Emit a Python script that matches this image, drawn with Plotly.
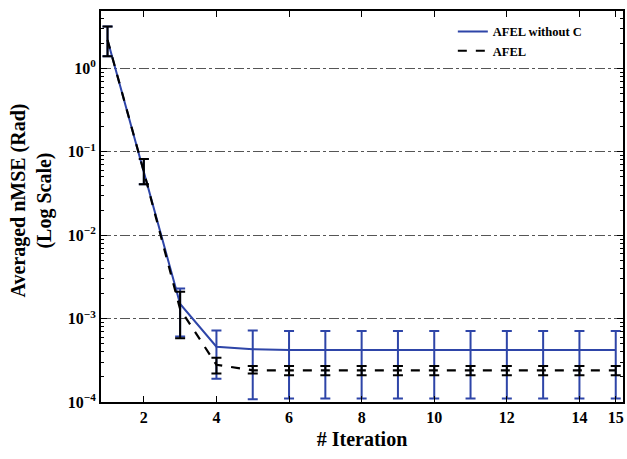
import plotly.graph_objects as go

# Iteration index
iterations = [1, 2, 3, 4, 5, 6, 7, 8, 9, 10, 11, 12, 13, 14, 15]

# AFEL without C: mean nMSE and error-bar bounds
afel_noc_mean = [2.2, 0.058, 0.0015, 0.00046, 0.00043, 0.00042, 0.00042, 0.00042,
                 0.00042, 0.00042, 0.00042, 0.00042, 0.00042, 0.00042, 0.00042]
afel_noc_upper = [3.2, 0.082, 0.0023, 0.00072, 0.00072, 0.00071, 0.00071, 0.00071,
                  0.00071, 0.00071, 0.00071, 0.00071, 0.00071, 0.00071, 0.00071]
afel_noc_lower = [1.4, 0.041, 0.00061, 0.00019, 0.000108, 0.000110, 0.000110, 0.000110,
                  0.000110, 0.000110, 0.000110, 0.000110, 0.000110, 0.000110, 0.000110]

# AFEL: mean nMSE and error-bar bounds
afel_mean = [2.2, 0.058, 0.0013, 0.00028, 0.00024, 0.00024, 0.00024, 0.00024,
             0.00024, 0.00024, 0.00024, 0.00024, 0.00024, 0.00024, 0.00024]
afel_upper = [3.2, 0.082, 0.0021, 0.00034, 0.00027, 0.00027, 0.00027, 0.00027,
              0.00027, 0.00027, 0.00027, 0.00027, 0.00027, 0.00027, 0.00027]
afel_lower = [1.4, 0.041, 0.00058, 0.00022, 0.00022, 0.00021, 0.00021, 0.00021,
              0.00021, 0.00021, 0.00021, 0.00021, 0.00021, 0.00021, 0.00021]

x_tickvals = [2, 4, 6, 8, 10, 12, 14, 15]
y_tickvals = [1e-4, 1e-3, 1e-2, 1e-1, 1e0]
y_ticktext = ["10<sup>\u22124</sup>", "10<sup>\u22123</sup>", "10<sup>\u22122</sup>",
              "10<sup>\u22121</sup>", "10<sup>0</sup>"]

BLUE = "#2E45A8"
FONT = "Liberation Serif"


def err(mean, upper, lower):
    plus = [u - m for u, m in zip(upper, mean)]
    minus = [m - l for m, l in zip(mean, lower)]
    return plus, minus


nc_plus, nc_minus = err(afel_noc_mean, afel_noc_upper, afel_noc_lower)
a_plus, a_minus = err(afel_mean, afel_upper, afel_lower)

fig = go.Figure()
fig.add_trace(go.Scatter(
    x=iterations, y=afel_noc_mean, mode="lines", name="<b>AFEL without C</b>",
    line=dict(color=BLUE, width=2),
    error_y=dict(type="data", symmetric=False, array=nc_plus, arrayminus=nc_minus,
                 color=BLUE, thickness=2, width=5),
))
fig.add_trace(go.Scatter(
    x=iterations, y=afel_mean, mode="lines", name="<b>AFEL</b>",
    line=dict(color="black", width=2.2, dash="dash"),
    error_y=dict(type="data", symmetric=False, array=a_plus, arrayminus=a_minus,
                 color="black", thickness=2, width=5),
))

fig.update_layout(
    width=627, height=459,
    margin=dict(l=101, r=2, t=11, b=57),
    paper_bgcolor="white", plot_bgcolor="white",
    font=dict(family=FONT, size=16, color="black"),
    showlegend=True,
    legend=dict(x=0.674, y=0.985, xanchor="left", yanchor="top",
                bgcolor="rgba(0,0,0,0)", borderwidth=0,
                font=dict(family=FONT, size=12.5, color="black"),
                tracegroupgap=0, itemwidth=30),
    annotations=[dict(
        text="<b>Averaged nMSE (Rad)<br>(Log Scale)</b>",
        xref="paper", yref="paper", x=-0.135, y=0.514,
        xanchor="center", yanchor="middle", textangle=-90, showarrow=False,
        font=dict(family=FONT, size=20, color="black"),
    )],
)

fig.update_xaxes(
    range=[0.82, 15.2], tickvals=x_tickvals,
    ticktext=[f"<b>{v}</b>" for v in x_tickvals],
    ticks="inside", ticklen=6, tickwidth=1, tickcolor="black",
    showline=True, linecolor="black", linewidth=2, mirror="ticks",
    showgrid=False, zeroline=False,
    tickfont=dict(family=FONT, size=16),
    title=dict(text="<b># Iteration</b>", font=dict(family=FONT, size=20), standoff=7),
)

fig.update_yaxes(
    type="log", range=[-4, 0.69],
    tickvals=y_tickvals, ticktext=[f"<b>{t}</b>" for t in y_ticktext],
    ticks="inside", ticklen=6, tickwidth=1, tickcolor="black",
    minor=dict(ticks="inside", ticklen=3, tickcolor="black", showgrid=False,
               tickvals=[m * 10 ** e for e in range(-4, 1) for m in range(2, 10)]),
    showline=True, linecolor="black", linewidth=2, mirror="ticks",
    showgrid=True, gridcolor="#555555", gridwidth=1, griddash="10px,3px,3px,3px",
    zeroline=False,
    tickfont=dict(family=FONT, size=16),
)

fig.write_html("out.html")
